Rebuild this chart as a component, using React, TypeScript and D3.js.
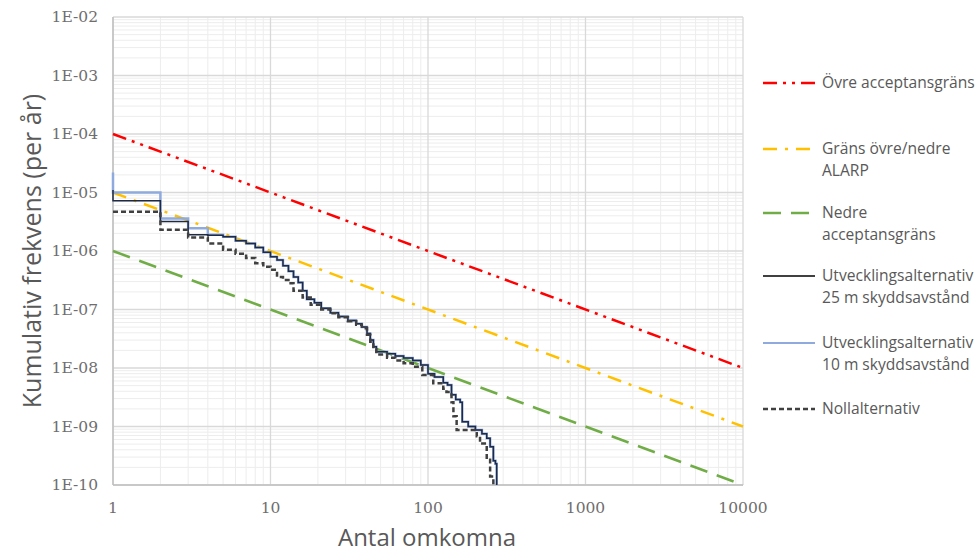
import React, { useRef, useEffect } from "react"
import * as d3 from "d3"

const W = 980
const H = 555

// x ticks (antal omkomna) and y ticks (frekvens per år)
const xTicks = [1, 10, 100, 1000, 10000]
const yTicks = [1e-2, 1e-3, 1e-4, 1e-5, 1e-6, 1e-7, 1e-8, 1e-9, 1e-10]

// criteria lines: [start at n=1, end at n=10000]
const ovreLine = [[1, 1e-4], [10000, 1e-8]]
const alarpLine = [[1, 1e-5], [10000, 1e-9]]
const nedreLine = [[1, 1e-6], [10000, 1e-10]]

// step curves: [antal, frekvens]
const utv10 = [
  [1, 2.2e-5], [1, 1.0e-5], [2, 3.6e-6], [3, 2.45e-6], [4, 1.9e-6], [5, 1.75e-6],
  [6, 1.5e-6], [7, 1.35e-6], [8, 1.15e-6], [9, 9.5e-7], [10, 8e-7], [11, 7e-7],
  [12, 5.6e-7], [13, 4.5e-7], [14, 3.6e-7], [15, 2.9e-7], [16, 2.1e-7], [17, 1.5e-7],
  [19, 1.3e-7], [21, 1.05e-7], [24, 8.8e-8], [27, 7.6e-8], [31, 6.5e-8], [35, 5.7e-8],
  [38, 5e-8], [41, 3.9e-8], [43, 3.0e-8], [45, 2.3e-8], [47, 1.9e-8], [55, 1.75e-8],
  [62, 1.6e-8], [70, 1.48e-8], [80, 1.35e-8], [90, 1.12e-8], [100, 8e-9], [110, 7e-9],
  [125, 5.6e-9], [133, 5.1e-9], [141, 3.5e-9], [150, 2.9e-9], [160, 2.6e-9],
  [165, 1.2e-9], [180, 1.0e-9], [200, 8.7e-10], [220, 7.5e-10], [236, 6.3e-10],
  [248, 4.5e-10], [260, 2.6e-10], [268, 2.3e-10], [273, 1e-10]
]
const utv25 = [
  [1, 1.1e-5], [1, 7.2e-6], [2, 3.2e-6], [3, 1.9e-6], [4, 1.85e-6], [5, 1.75e-6],
  [6, 1.5e-6], [7, 1.35e-6], [8, 1.15e-6], [9, 9.5e-7], [10, 8e-7], [11, 7e-7],
  [12, 5.6e-7], [13, 4.5e-7], [14, 3.6e-7], [15, 2.9e-7], [16, 2.1e-7], [17, 1.5e-7],
  [19, 1.3e-7], [21, 1.05e-7], [24, 8.8e-8], [27, 7.6e-8], [31, 6.5e-8], [35, 5.7e-8],
  [38, 5e-8], [41, 3.9e-8], [43, 3.0e-8], [45, 2.3e-8], [47, 1.9e-8], [55, 1.75e-8],
  [62, 1.6e-8], [70, 1.48e-8], [80, 1.35e-8], [90, 1.12e-8], [100, 8e-9], [110, 7e-9],
  [125, 5.6e-9], [133, 5.1e-9], [141, 3.5e-9], [150, 2.9e-9], [160, 2.6e-9],
  [165, 1.2e-9], [180, 1.0e-9], [200, 8.7e-10], [220, 7.5e-10], [236, 6.3e-10],
  [248, 4.5e-10], [260, 2.6e-10], [268, 2.3e-10], [273, 1e-10]
]
const noll = [
  [1, 4.7e-6], [2, 2.3e-6], [3, 1.7e-6], [4, 1.35e-6], [5, 1.05e-6], [6, 9e-7],
  [7, 7.6e-7], [8, 6.2e-7], [9, 5.4e-7], [10, 4.8e-7], [11, 3.6e-7], [12, 3.2e-7],
  [13, 2.8e-7], [14, 2.1e-7], [16, 1.6e-7], [18, 1.2e-7], [21, 1.0e-7], [24, 8.6e-8],
  [27, 7.4e-8], [31, 6.3e-8], [35, 5.5e-8], [38, 4.8e-8], [41, 3.7e-8], [43, 2.8e-8],
  [45, 2.1e-8], [47, 1.7e-8], [55, 1.5e-8], [62, 1.35e-8], [70, 1.2e-8], [80, 1.05e-8],
  [92, 7.6e-9], [108, 5.5e-9], [125, 4.4e-9], [131, 3.9e-9], [141, 2.6e-9],
  [145, 1.5e-9], [152, 8.7e-10], [204, 6.8e-10], [214, 5.1e-10], [236, 2.7e-10],
  [248, 1.4e-10], [260, 1e-10]
]

const legendItems = [
  { lines: ["Övre acceptansgräns"], color: "#FF0000", dash: "14,6,3,6,3,6", width: 2.5 },
  { lines: ["Gräns övre/nedre", "ALARP"], color: "#FFC000", dash: "14,8,3,8", width: 2.5 },
  { lines: ["Nedre", "acceptansgräns"], color: "#70AD47", dash: "18,10", width: 2.5 },
  { lines: ["Utvecklingsalternativ", "25 m skyddsavstånd"], color: "#000000", dash: null, width: 1.5 },
  { lines: ["Utvecklingsalternativ", "10 m skyddsavstånd"], color: "#8FAADC", dash: null, width: 2 },
  { lines: ["Nollalternativ"], color: "#404040", dash: "5,3", width: 2.5 }
]

export default function App() {
  const svgRef = useRef(null)

  useEffect(() => {
    const svg = d3.select(svgRef.current)
    svg.selectAll("*").remove()

    const left = 113, right = 743, top = 17, bottom = 485
    const x = d3.scaleLog().domain([1, 10000]).range([left, right])
    const y = d3.scaleLog().domain([1e-10, 1e-2]).range([bottom, top])

    const txt = "#595959"
    const font = "'Open Sans', Lato, sans-serif"
    const tickFont = "'DejaVu Serif', serif"

    // minor grid
    const minorX = []
    const minorY = []
    for (let d = 1; d < 10000; d *= 10) for (let k = 2; k <= 9; k++) minorX.push(d * k)
    for (let d = 1e-10; d < 1e-2 * 0.99; d *= 10) for (let k = 2; k <= 9; k++) minorY.push(d * k)

    const grid = svg.append("g")
    grid.selectAll(".mx").data(minorX).enter().append("line")
      .attr("x1", d => x(d)).attr("x2", d => x(d)).attr("y1", top).attr("y2", bottom)
      .attr("stroke", "#EDEDED").attr("stroke-width", 1)
    grid.selectAll(".my").data(minorY).enter().append("line")
      .attr("x1", left).attr("x2", right).attr("y1", d => y(d)).attr("y2", d => y(d))
      .attr("stroke", "#EDEDED").attr("stroke-width", 1)
    grid.selectAll(".Mx").data(xTicks).enter().append("line")
      .attr("x1", d => x(d)).attr("x2", d => x(d)).attr("y1", top).attr("y2", bottom)
      .attr("stroke", "#D9D9D9").attr("stroke-width", 1.3)
    grid.selectAll(".My").data(yTicks).enter().append("line")
      .attr("x1", left).attr("x2", right).attr("y1", d => y(d)).attr("y2", d => y(d))
      .attr("stroke", "#D9D9D9").attr("stroke-width", 1.3)

    // axis lines
    svg.append("line").attr("x1", left).attr("x2", left).attr("y1", top).attr("y2", bottom)
      .attr("stroke", "#BFBFBF").attr("stroke-width", 1.5)
    svg.append("line").attr("x1", left).attr("x2", right).attr("y1", bottom).attr("y2", bottom)
      .attr("stroke", "#BFBFBF").attr("stroke-width", 1.5)

    // tick labels
    svg.selectAll(".yl").data(yTicks).enter().append("text")
      .attr("x", 98).attr("y", d => y(d)).attr("dy", "0.35em")
      .attr("text-anchor", "end").attr("fill", "#6E6E6E")
      .attr("font-family", tickFont).attr("font-size", 15.5)
      .text(d => "1E-" + String(Math.round(-Math.log10(d))).padStart(2, "0"))
    svg.selectAll(".xl").data(xTicks).enter().append("text")
      .attr("x", d => x(d)).attr("y", 513)
      .attr("text-anchor", "middle").attr("fill", "#6E6E6E")
      .attr("font-family", tickFont).attr("font-size", 15.5)
      .text(d => String(d))

    // axis titles
    svg.append("text")
      .attr("transform", "translate(41," + (top + bottom) / 2 + ") rotate(-90)")
      .attr("text-anchor", "middle").attr("fill", txt)
      .attr("font-family", font).attr("font-size", 25)
      .text("Kumulativ frekvens (per år)")
    svg.append("text")
      .attr("x", 427).attr("y", 546)
      .attr("text-anchor", "middle").attr("fill", txt)
      .attr("font-family", font).attr("font-size", 24)
      .text("Antal omkomna")

    const line = d3.line().x(d => x(d[0])).y(d => y(d[1]))
    const step = d3.line().x(d => x(d[0])).y(d => y(d[1])).curve(d3.curveStepAfter)

    const plot = svg.append("g")
    plot.append("path").attr("d", line(nedreLine)).attr("fill", "none")
      .attr("stroke", "#70AD47").attr("stroke-width", 2.5).attr("stroke-dasharray", "18,10")
    plot.append("path").attr("d", line(alarpLine)).attr("fill", "none")
      .attr("stroke", "#FFC000").attr("stroke-width", 2.5).attr("stroke-dasharray", "14,8,3,8")
    plot.append("path").attr("d", line(ovreLine)).attr("fill", "none")
      .attr("stroke", "#FF0000").attr("stroke-width", 2.5).attr("stroke-dasharray", "14,6,3,6,3,6")

    plot.append("path").attr("d", step(utv10)).attr("fill", "none")
      .attr("stroke", "#8FAADC").attr("stroke-width", 2.5)
    plot.append("path").attr("d", step(utv25)).attr("fill", "none")
      .attr("stroke", "#1F2A44").attr("stroke-width", 1.5)
    plot.append("path").attr("d", step(noll)).attr("fill", "none")
      .attr("stroke", "#404040").attr("stroke-width", 2.5).attr("stroke-dasharray", "5,3")

    // legend
    const ly = [83, 149, 213, 276, 343, 409]
    const lg = svg.selectAll(".lg").data(legendItems).enter().append("g")
      .attr("transform", (d, i) => "translate(763," + ly[i] + ")")
    lg.append("line").attr("x1", 0).attr("x2", 52).attr("y1", 0).attr("y2", 0)
      .attr("stroke", d => d.color).attr("stroke-width", d => d.width)
      .attr("stroke-dasharray", d => d.dash)
    lg.append("text").attr("x", 59).attr("fill", txt)
      .attr("font-family", font).attr("font-size", 15.6)
      .selectAll("tspan").data(d => d.lines).enter().append("tspan")
      .attr("x", 59).attr("y", (d, i) => i * 22).attr("dy", "0.35em")
      .text(d => d)
  }, [])

  return (
    <svg ref={svgRef} width={W} height={H}
      style={{ position: "absolute", left: 0, top: 0, background: "#fff" }} />
  )
}
